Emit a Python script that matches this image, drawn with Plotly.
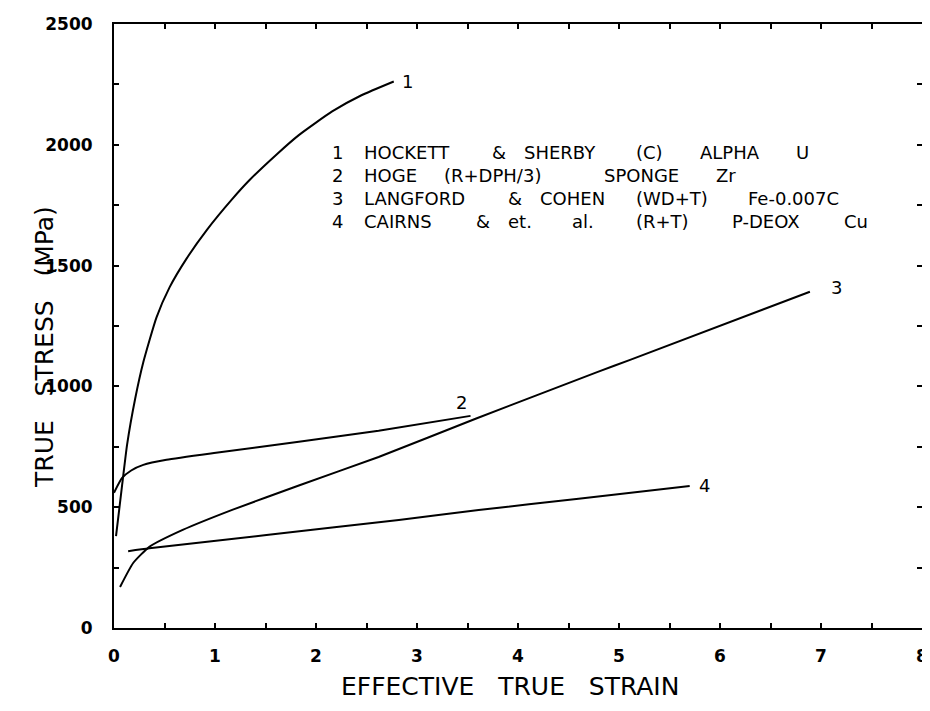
import plotly.graph_objects as go

# ---- data ----
strain_1 = [0.02, 0.08, 0.13, 0.21, 0.29, 0.42, 0.55, 0.72, 0.92, 1.17, 1.34, 1.61, 1.83, 2.16, 2.45, 2.77]
stress_1 = [380, 590, 760, 950, 1100, 1285, 1410, 1530, 1648, 1775, 1853, 1960, 2040, 2138, 2205, 2262]

strain_2 = [0.0, 0.08, 0.17, 0.29, 0.52, 1.01, 1.83, 2.62, 3.53]
stress_2 = [560, 621, 652, 675, 696, 725, 771, 816, 878]

strain_3 = [0.06, 0.19, 0.35, 0.68, 1.17, 1.83, 2.62, 3.58, 4.79, 5.11, 6.89]
stress_3 = [170, 269, 336, 406, 489, 590, 708, 866, 1060, 1110, 1392]

strain_4 = [0.14, 0.35, 1.51, 2.82, 3.61, 4.60, 5.70]
stress_4 = [318, 330, 385, 447, 488, 535, 588]

curve_labels = ["1", "2", "3", "4"]
legend_lines = [
    "1 HOCKETT & SHERBY (C) ALPHA U",
    "2 HOGE (R+DPH/3) SPONGE Zr",
    "3 LANGFORD & COHEN (WD+T) Fe-0.007C",
    "4 CAIRNS & et. al. (R+T) P-DEOX Cu",
]
x_tick_vals = [0, 1, 2, 3, 4, 5, 6, 7, 8]
x_tick_text = ["0", "1", "2", "3", "4", "5", "6", "7", "8"]
y_tick_vals = [0, 500, 1000, 1500, 2000, 2500]
y_tick_text = ["0", "500", "1000", "1500", "2000", "2500"]
x_title = "EFFECTIVE TRUE STRAIN"
y_title = "TRUE STRESS (MPa)"

# ---- layout geometry (page pixels; the page body has an 8px margin) ----
BODY = 8
PAGE_W, PAGE_H = 930, 711
PL, PR, PT, PB = 114, 922, 24, 628          # plot area on the page
W, H = PAGE_W - BODY, PAGE_H - BODY
ML, MT = PL - BODY, PT - BODY
MR, MB = W - (PR - BODY), H - (PB - BODY)
X_RANGE = [0, 8]
Y_RANGE = [0, 2500]


def px_x(px):
    return (px - PL) / (PR - PL)


def px_y(py):
    return (PB - py) / (PB - PT)


TXT = "DejaVu Sans"
GAP = "\u00a0\u00a0\u00a0"
fig = go.Figure()

series = [(strain_1, stress_1), (strain_2, stress_2), (strain_3, stress_3), (strain_4, stress_4)]
label_shift = [(14, 0), (-9, 13), (27, 4), (15, 0)]
annotations = []
for (xs, ys), lab, (dx, dy) in zip(series, curve_labels, label_shift):
    fig.add_trace(go.Scatter(
        x=xs, y=ys, mode="lines",
        line=dict(color="black", width=2, shape="spline", smoothing=0.5),
        showlegend=False, hoverinfo="skip",
    ))
    annotations.append(dict(
        x=xs[-1], y=ys[-1], xref="x", yref="y", text=lab, showarrow=False,
        xshift=dx, yshift=dy, font=dict(family=TXT, size=18, color="black"),
    ))

# legend block: plotter-style text with a fixed character pitch
pitch_px = 16.0
x0_px, y0_px, line_px = 330, 152, 23.3
for i, line in enumerate(legend_lines):
    idx = 0
    for word in line.split(" "):
        if word:
            annotations.append(dict(
                x=px_x(x0_px + idx * pitch_px), y=px_y(y0_px + i * line_px),
                xref="paper", yref="paper", text=word, showarrow=False,
                xanchor="left", yanchor="middle",
                font=dict(family=TXT, size=18, color="black"),
            ))
        idx += len(word) + 1

# axis titles
annotations.append(dict(
    x=px_x(510), y=px_y(686), xref="paper", yref="paper",
    text=x_title.replace(" ", GAP), showarrow=False,
    xanchor="center", yanchor="middle",
    font=dict(family=TXT, size=25, color="black"),
))
annotations.append(dict(
    x=px_x(44), y=px_y(347), xref="paper", yref="paper",
    text=y_title.replace(" ", GAP), showarrow=False, textangle=-90,
    xanchor="center", yanchor="middle",
    font=dict(family=TXT, size=25, color="black"),
))

axis_common = dict(
    showline=True, linecolor="black", linewidth=2, mirror="ticks",
    showgrid=False, zeroline=False, automargin=False,
    ticks="inside", ticklen=5, tickwidth=2, tickcolor="black",
    tickfont=dict(family=TXT, size=17, color="black", weight="bold"),
)
fig.update_layout(
    width=W, height=H,
    margin=dict(l=ML, r=MR, t=MT, b=MB, pad=0, autoexpand=False),
    paper_bgcolor="white", plot_bgcolor="white",
    xaxis=dict(range=X_RANGE, tickmode="array", tickvals=x_tick_vals, ticktext=x_tick_text,
               ticklabelstandoff=12,
               minor=dict(dtick=0.5, ticks="inside", ticklen=5, tickwidth=2, tickcolor="black"),
               **axis_common),
    yaxis=dict(range=Y_RANGE, tickmode="array", tickvals=y_tick_vals, ticktext=y_tick_text,
               ticklabelstandoff=16,
               minor=dict(dtick=250, ticks="inside", ticklen=5, tickwidth=2, tickcolor="black"),
               **axis_common),
    annotations=annotations,
    showlegend=False,
)

fig.write_html("out.html")
